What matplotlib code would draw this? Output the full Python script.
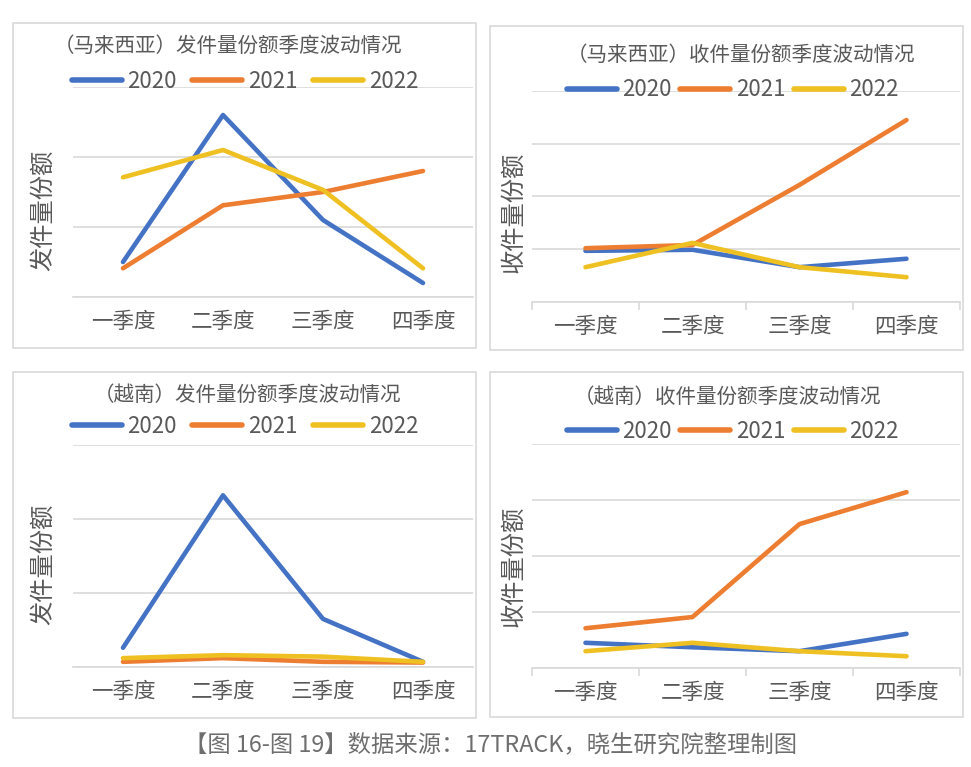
import matplotlib
matplotlib.use("Agg")
import matplotlib.pyplot as plt
from matplotlib.patches import Rectangle

plt.rcParams['font.family'] = ['Noto Sans CJK SC', 'DejaVu Sans']

quarters = ["一季度", "二季度", "三季度", "四季度"]
years = ["2020", "2021", "2022"]
colors = ["#4472C4", "#ED7D31", "#EFC021"]

# (Malaysia) outbound share
my_send_2020 = [0.50, 2.60, 1.10, 0.20]
my_send_2021 = [0.41, 1.31, 1.50, 1.80]
my_send_2022 = [1.71, 2.10, 1.53, 0.41]
# (Malaysia) inbound share
my_recv_2020 = [0.97, 0.99, 0.66, 0.82]
my_recv_2021 = [1.02, 1.08, 2.22, 3.45]
my_recv_2022 = [0.66, 1.12, 0.66, 0.47]
# (Vietnam) outbound share
vn_send_2020 = [0.26, 2.32, 0.65, 0.07]
vn_send_2021 = [0.07, 0.12, 0.07, 0.06]
vn_send_2022 = [0.12, 0.16, 0.14, 0.07]
# (Vietnam) inbound share
vn_recv_2020 = [0.45, 0.37, 0.30, 0.61]
vn_recv_2021 = [0.71, 0.91, 2.57, 3.14]
vn_recv_2022 = [0.30, 0.45, 0.30, 0.21]

titles = ["（马来西亚）发件量份额季度波动情况", "（马来西亚）收件量份额季度波动情况",
          "（越南）发件量份额季度波动情况", "（越南）收件量份额季度波动情况"]
ylabels = ["发件量份额", "收件量份额", "发件量份额", "收件量份额"]
caption = "【图 16-图 19】数据来源：17TRACK，晓生研究院整理制图"

W, H = 971, 767
fig = plt.figure(figsize=(W / 100, H / 100), dpi=100)
fig.patch.set_facecolor("white")

def fx(x): return x / W
def fy(y): return 1 - y / H

panels = [
    dict(series=[my_send_2020, my_send_2021, my_send_2022], box=(13, 23, 476, 348),
         ax=(73, 87, 473, 297), ymax=3, title_xy=(228, 46), leg_xy=(245, 81), colsp=0.7,
         ylab_xy=(43, 210), ticks=False),
    dict(series=[my_recv_2020, my_recv_2021, my_recv_2022], box=(490, 26, 963, 350),
         ax=(532, 91, 960, 302), ymax=4, title_xy=(741, 55), leg_xy=(733, 90), colsp=0.38,
         ylab_xy=(513, 212), ticks=True),
    dict(series=[vn_send_2020, vn_send_2021, vn_send_2022], box=(13, 372, 476, 718),
         ax=(73, 445, 473, 667), ymax=3, title_xy=(247, 395), leg_xy=(245, 426), colsp=0.7,
         ylab_xy=(43, 564), ticks=False),
    dict(series=[vn_recv_2020, vn_recv_2021, vn_recv_2022], box=(490, 372, 963, 717),
         ax=(532, 444, 960, 668), ymax=4, title_xy=(727, 397), leg_xy=(733, 431), colsp=0.38,
         ylab_xy=(513, 566), ticks=True),
]

txtc = "#595959"
for i, p in enumerate(panels):
    x0, y0, x1, y1 = p["box"]
    fig.patches.append(Rectangle((fx(x0), fy(y1)), fx(x1 - x0), (y1 - y0) / H,
                                 transform=fig.transFigure, fill=False,
                                 edgecolor="#D9D9D9", linewidth=1.2))
    a0, b0, a1, b1 = p["ax"]
    ax = fig.add_axes([fx(a0), fy(b1), fx(a1 - a0), (b1 - b0) / H])
    ax.set_facecolor("none")
    xs = list(range(len(quarters)))
    for s, yr, c in zip(p["series"], years, colors):
        ax.plot(xs, s, color=c, linewidth=3.3, label=yr, solid_capstyle="round",
                solid_joinstyle="round")
    ax.set_xlim(-0.5, 3.5)
    ax.set_ylim(0, p["ymax"])
    ax.set_yticks(range(p["ymax"] + 1))
    ax.yaxis.grid(True, color="#D9D9D9", linewidth=1.2)
    ax.set_axisbelow(True)
    ax.tick_params(axis="y", length=0, labelleft=False)
    for sp in ["top", "right", "left"]:
        ax.spines[sp].set_visible(False)
    ax.spines["bottom"].set_color("#D9D9D9")
    ax.spines["bottom"].set_linewidth(1.2)
    ax.set_xticks(xs)
    ax.set_xticklabels(quarters, fontsize=15.5, color=txtc)
    ax.tick_params(axis="x", length=0, pad=10)
    if p["ticks"]:
        ax.set_xticks([-0.5, 0.5, 1.5, 2.5, 3.5], minor=True)
        ax.tick_params(axis="x", which="minor", length=6, color="#D9D9D9", width=1.2)
    fig.text(fx(p["title_xy"][0]), fy(p["title_xy"][1]), titles[i], ha="center", va="center",
             fontsize=14.8, color=txtc)
    fig.text(fx(p["ylab_xy"][0]), fy(p["ylab_xy"][1]), ylabels[i], ha="center", va="center",
             rotation=90, fontsize=17.5, color=txtc)
    leg = ax.legend(loc="center", bbox_to_anchor=(fx(p["leg_xy"][0]), fy(p["leg_xy"][1])),
                    bbox_transform=fig.transFigure, ncol=3, frameon=False, fontsize=16,
                    handlelength=2.25, handletextpad=0.25, columnspacing=p["colsp"],
                    borderpad=0, borderaxespad=0)
    for t in leg.get_texts():
        t.set_color(txtc)
    for h in leg.get_lines():
        h.set_linewidth(4)

fig.text(fx(491), fy(745), caption, ha="center", va="center", fontsize=16.8, color="#6E6E6E")

fig.savefig("out.png", dpi=100, facecolor="white")
